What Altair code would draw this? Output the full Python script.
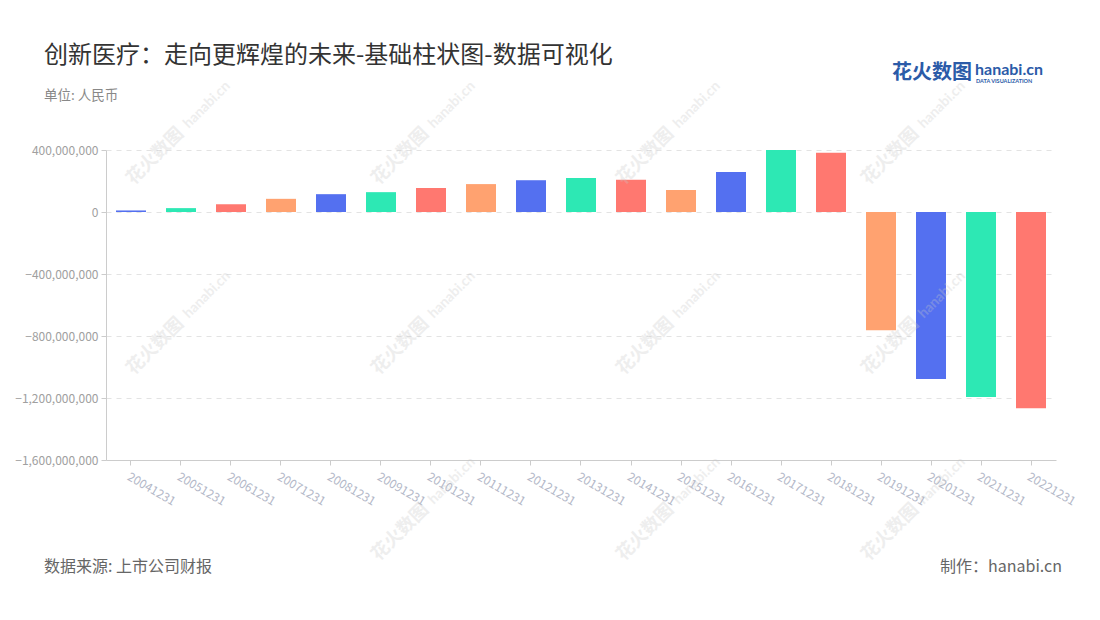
import altair as alt
import pandas as pd

years = ["20041231", "20051231", "20061231", "20071231", "20081231", "20091231",
         "20101231", "20111231", "20121231", "20131231", "20141231", "20151231",
         "20161231", "20171231", "20181231", "20191231", "20201231", "20211231",
         "20221231"]
values = [10e6, 25e6, 50e6, 85e6, 115e6, 128e6, 155e6, 180e6, 205e6, 220e6,
          208e6, 142e6, 258e6, 400e6, 383e6, -763e6, -1077e6, -1194e6, -1266e6]
palette = ["#5470F0", "#2DE8B4", "#FF7870", "#FFA270"]
y_ticks = [-1.6e9, -1.2e9, -8e8, -4e8, 0, 4e8]

FONT = "Noto Sans CJK SC"
df = pd.DataFrame({"year": years, "value": values})
color_range = [palette[i % len(palette)] for i in range(len(years))]

W, H = 950, 310
PAD_L, PAD_T = 98, 142
OX, OY = 8 + PAD_L, 8 + PAD_T

bars = alt.Chart(df).mark_bar().encode(
    x=alt.X("year:N", sort=years, title=None,
            scale=alt.Scale(paddingInner=0.4, paddingOuter=0.2),
            axis=alt.Axis(labelAngle=30, labelAlign="left", labelBaseline="top",
                          labelColor="#b3b8c8", labelFontSize=12, labelFont=FONT,
                          labelPadding=6, domainColor="#cccccc", tickColor="#cccccc",
                          tickSize=5, grid=False, labelOverlap=False)),
    y=alt.Y("value:Q", title=None,
            scale=alt.Scale(domain=[-1.6e9, 4e8], nice=False),
            axis=alt.Axis(values=y_ticks, format=",.0f",
                          labelColor="#a0a0a0", labelFontSize=12, labelFont=FONT,
                          domainColor="#cccccc", tickColor="#cccccc", tickSize=5,
                          gridColor="#e3e3e3", gridDash=[5, 5], gridWidth=1.2,
                          labelPadding=3)),
    color=alt.Color("year:N", scale=alt.Scale(domain=years, range=color_range),
                    legend=None),
)

one = pd.DataFrame({"a": [0]})

def txt(text, x, y, size, color, align="left", weight="normal", font=FONT,
        baseline="middle", angle=0, opacity=1):
    return alt.Chart(one).mark_text(
        text=text, fontSize=size, color=color, align=align, baseline=baseline,
        font=font, fontWeight=weight, angle=angle, opacity=opacity
    ).encode(x=alt.value(x - OX), y=alt.value(y - OY))

layers = [bars]
# faint watermarks
wm_pts = [(130, 182), (375, 182), (620, 182), (865, 182),
          (130, 372), (375, 372), (620, 372), (865, 372),
          (375, 558), (620, 558), (865, 558)]
for (wx, wy) in wm_pts:
    layers.append(txt("花火数图", wx, wy, 18, "#c8c8c8", weight="bold", angle=315, opacity=0.3))
    layers.append(txt("hanabi.cn", wx + 56, wy - 56, 14, "#c8c8c8", weight="bold",
                      font="Lato", angle=315, opacity=0.3))

layers += [
    txt("创新医疗：走向更辉煌的未来-基础柱状图-数据可视化", 44, 56, 24, "#333333"),
    txt("单位: 人民币", 44, 96, 13.5, "#888888"),
    txt("数据来源: 上市公司财报", 44, 567, 16, "#666666"),
    txt("制作：hanabi.cn", 1062, 567, 16, "#666666", align="right"),
    txt("花火数图", 892, 73, 20, "#2B5BA8", weight="bold"),
    txt("hanabi.cn", 975, 70, 16, "#2B5BA8", weight="bold", font="Lato"),
    txt("DATA VISUALIZATION", 976, 81, 5.5, "#2B5BA8", weight="bold", font="Lato"),
]

chart = alt.layer(*layers).properties(
    width=W, height=H,
    background="white",
    autosize=alt.AutoSizeParams(type="none"),
    padding={"left": PAD_L, "top": PAD_T, "right": 28, "bottom": 130},
).configure_view(strokeWidth=0, strokeOpacity=0)

chart.save("out.html", embed_options={"renderer": "svg", "actions": False})
